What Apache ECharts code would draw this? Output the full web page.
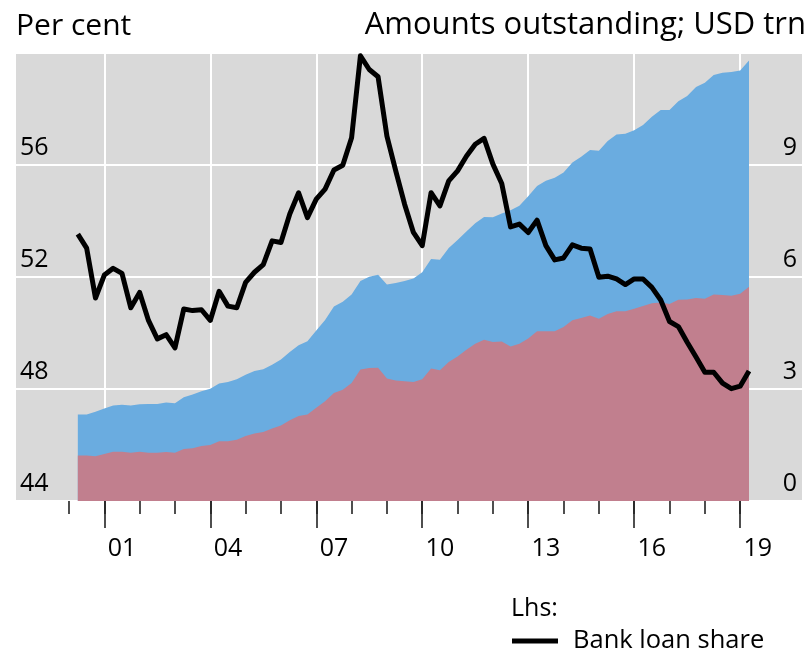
<!DOCTYPE html>
<html>
<head>
<meta charset="utf-8">
<script src="https://cdn.jsdelivr.net/npm/echarts@6/dist/echarts.min.js"></script>
<style>
  html, body { margin: 0; padding: 0; background: #fff; }
  #chart { width: 812px; height: 654px; }
</style>
</head>
<body>
<div id="chart"></div>
<script>
// quarterly, 2000 Q1 .. 2019 Q1 (plotted at end of quarter)
var firstYear = 2000;
var quarterCount = 77;

// Lhs, per cent
var bankLoanShare = [
    53.53, 53.03, 51.25, 52.07, 52.31, 52.13, 50.90, 51.45, 50.45, 49.79,
    49.94, 49.47, 50.86, 50.80, 50.83, 50.45, 51.49, 50.96, 50.90, 51.81,
    52.17, 52.44, 53.29, 53.23, 54.25, 55.01, 54.12, 54.78, 55.14, 55.82,
    55.99, 56.97, 59.90, 59.41, 59.15, 57.03, 55.79, 54.60, 53.59, 53.12,
    55.01, 54.54, 55.43, 55.79, 56.31, 56.74, 56.95, 56.03, 55.34, 53.79,
    53.89, 53.59, 54.03, 53.12, 52.61, 52.68, 53.15, 53.03, 53.00, 51.99,
    52.03, 51.93, 51.73, 51.93, 51.93, 51.63, 51.18, 50.41, 50.23, 49.67,
    49.14, 48.60, 48.60, 48.21, 48.01, 48.10, 48.64
];

// Rhs, USD trn - bank loans (lower band)
var bankLoans = [
    1.22, 1.22, 1.20, 1.26, 1.32, 1.32, 1.29, 1.32, 1.29, 1.29,
    1.31, 1.29, 1.39, 1.41, 1.47, 1.50, 1.60, 1.60, 1.64, 1.74,
    1.81, 1.85, 1.94, 2.02, 2.16, 2.28, 2.32, 2.50, 2.67, 2.89,
    2.98, 3.16, 3.52, 3.56, 3.57, 3.28, 3.23, 3.21, 3.19, 3.26,
    3.55, 3.50, 3.72, 3.87, 4.05, 4.21, 4.32, 4.26, 4.27, 4.14,
    4.21, 4.35, 4.55, 4.55, 4.55, 4.66, 4.84, 4.90, 4.97, 4.88,
    5.01, 5.08, 5.08, 5.15, 5.22, 5.30, 5.32, 5.28, 5.39, 5.40,
    5.44, 5.42, 5.53, 5.52, 5.50, 5.55, 5.74
];

// Rhs, USD trn - total (bank loans + bonds), top of the blue band
var totalOutstanding = [
    2.32, 2.32, 2.39, 2.48, 2.56, 2.58, 2.56, 2.59, 2.60, 2.60,
    2.64, 2.62, 2.78, 2.85, 2.94, 3.01, 3.15, 3.19, 3.26, 3.38,
    3.48, 3.53, 3.65, 3.79, 3.99, 4.17, 4.28, 4.57, 4.85, 5.21,
    5.34, 5.53, 5.89, 6.01, 6.06, 5.80, 5.84, 5.89, 5.96, 6.13,
    6.48, 6.46, 6.78, 6.99, 7.22, 7.44, 7.61, 7.60, 7.70, 7.79,
    7.91, 8.16, 8.44, 8.58, 8.66, 8.80, 9.07, 9.22, 9.40, 9.38,
    9.64, 9.82, 9.84, 9.93, 10.07, 10.29, 10.47, 10.47, 10.71, 10.85,
    11.09, 11.20, 11.41, 11.47, 11.49, 11.53, 11.80
];

var majorYears = [2001, 2004, 2007, 2010, 2013, 2016, 2019];
var minorYears = [2000, 2001, 2002, 2003, 2004, 2005, 2006, 2007, 2008, 2009,
    2010, 2011, 2012, 2013, 2014, 2015, 2016, 2017, 2018, 2019];
var leftTicks = [44, 60, 4];   // min, max, step
var rightTicks = [0, 12, 3];

var FONT = 'Open Sans';
var INK = '#000';

// x position of each quarter (end of quarter, in years)
var quarters = [];
for (var i = 0; i < quarterCount; i++) {
    quarters.push(firstYear + (i + 1) / 4);
}

function pairs(values) {
    var out = [];
    for (var i = 0; i < values.length; i++) {
        out.push([quarters[i], values[i]]);
    }
    return out;
}

// labels sit in the middle of the year
var labelYears = majorYears.map(function (y) { return y + 0.5; });

var gridBox = { left: 16, right: 10, top: 53, bottom: 153 };
var xMin = 1998.5, xMax = 2020.75;

var chart = echarts.init(document.getElementById('chart'), null, { renderer: 'canvas' });

var option = {
    animation: false,
    backgroundColor: '#fff',
    textStyle: { fontFamily: FONT },
    grid: [
        Object.assign({ show: true, backgroundColor: '#d9d9d9', borderWidth: 0 }, gridBox),
        Object.assign({ show: false }, gridBox)
    ],
    xAxis: [
        {
            type: 'value', gridIndex: 0, min: xMin, max: xMax, position: 'bottom', offset: 3,
            axisLine: { show: false },
            axisTick: { show: true, customValues: majorYears, length: 27, lineStyle: { color: '#222', width: 1.6 } },
            splitLine: { show: true, lineStyle: { color: '#fff', width: 2 } },
            axisLabel: {
                customValues: labelYears, margin: 32, color: INK, fontSize: 25, fontFamily: FONT,
                formatter: function (v) { return String(Math.floor(v) % 100).padStart(2, '0'); }
            }
        },
        {
            // short yearly ticks
            type: 'value', gridIndex: 1, min: xMin, max: xMax, position: 'bottom', offset: 3,
            axisLine: { show: false },
            axisTick: { show: true, customValues: minorYears, length: 13, lineStyle: { color: '#222', width: 1.6 } },
            splitLine: { show: false },
            axisLabel: { show: false }
        }
    ],
    yAxis: [
        {
            type: 'value', gridIndex: 0, position: 'left',
            min: leftTicks[0], max: leftTicks[1], interval: leftTicks[2],
            name: 'Per cent', nameLocation: 'end', nameGap: 12,
            nameTextStyle: { color: INK, fontSize: 30, fontFamily: FONT, align: 'left', verticalAlign: 'bottom' },
            axisLine: { show: false }, axisTick: { show: false },
            splitLine: { show: true, lineStyle: { color: '#fff', width: 2 } },
            axisLabel: {
                inside: true, margin: 4, color: INK, fontSize: 25, fontFamily: FONT,
                verticalAlign: 'bottom', align: 'left', padding: [0, 0, 5, 0], showMaxLabel: false
            }
        },
        {
            type: 'value', gridIndex: 0, position: 'right',
            min: rightTicks[0], max: rightTicks[1], interval: rightTicks[2],
            name: 'Amounts outstanding; USD trn', nameLocation: 'end', nameGap: 12,
            nameTextStyle: { color: INK, fontSize: 31, fontFamily: FONT, align: 'right', verticalAlign: 'bottom', padding: [0, -4, 0, 0] },
            axisLine: { show: false }, axisTick: { show: false }, splitLine: { show: false },
            axisLabel: {
                inside: true, margin: 5, color: INK, fontSize: 25, fontFamily: FONT,
                verticalAlign: 'bottom', align: 'right', padding: [0, 0, 5, 0], showMaxLabel: false
            }
        },
        { type: 'value', gridIndex: 1, show: false, min: 0, max: 1 }
    ],
    legend: {
        data: ['Bank loan share'],
        left: 512, top: 628, padding: 0,
        icon: 'rect', itemWidth: 46, itemHeight: 5,
        textStyle: { color: INK, fontSize: 25.5, fontFamily: FONT, padding: [0, 0, 0, 10] }
    },
    graphic: [
        { type: 'text', left: 511, top: 596, style: { text: 'Lhs:', fill: INK, font: '25px "Open Sans"' } }
    ],
    series: [
        {
            name: 'Bonds', type: 'line', xAxisIndex: 0, yAxisIndex: 1,
            data: pairs(totalOutstanding), symbol: 'none', z: 1,
            lineStyle: { width: 0 }, areaStyle: { color: '#6aace0', opacity: 1 }
        },
        {
            name: 'Bank loans', type: 'line', xAxisIndex: 0, yAxisIndex: 1,
            data: pairs(bankLoans), symbol: 'none', z: 2,
            lineStyle: { width: 0 }, areaStyle: { color: '#c17f8e', opacity: 1 }
        },
        {
            name: 'Bank loan share', type: 'line', xAxisIndex: 0, yAxisIndex: 0,
            data: pairs(bankLoanShare), symbol: 'none', z: 5,
            itemStyle: { color: INK },
            lineStyle: { color: INK, width: 5, join: 'round' }
        }
    ]
};

chart.setOption(option);
</script>
</body>
</html>
